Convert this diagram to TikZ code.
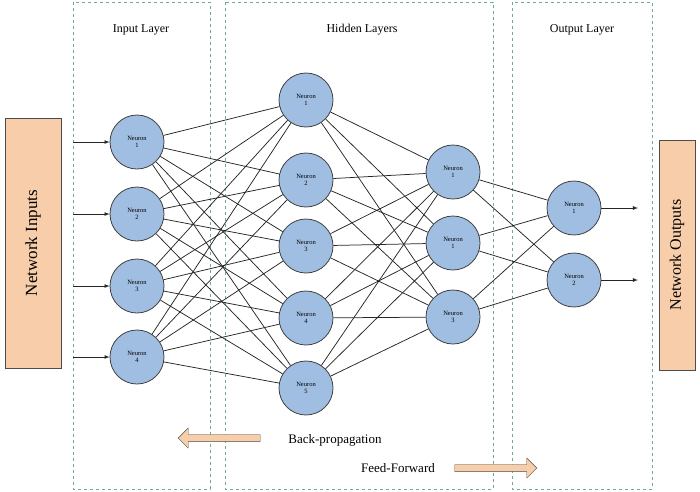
\documentclass[tikz,border=0pt]{standalone}
\usepackage{fontspec}
\setmainfont{Liberation Serif}
\usetikzlibrary{shapes.arrows}
\begin{document}
\begin{tikzpicture}[x=1pt,y=-1pt,
 neuron/.style={circle,draw=black!75,line width=0.8pt,fill=neu,minimum size=54pt,inner sep=0pt,align=center,font=\fontsize{6.5}{7.5}\selectfont},
 layer/.style={draw=dgreen,dashed,line width=0.9pt},
 side/.style={draw=black!70,fill=peach,minimum width=56pt,minimum height=250pt},
 conn/.style={draw=black!85,line width=0.75pt},
 arr/.style={conn,-latex},
 fat/.style={single arrow,draw=black!70,fill=peach,minimum height=82pt,minimum width=20pt,single arrow head extend=4pt,inner sep=2pt}]
\definecolor{neu}{RGB}{160,190,225}
\definecolor{peach}{RGB}{248,206,170}
\definecolor{dgreen}{RGB}{110,170,140}
\useasboundingbox (0,0) rectangle (700,491);
\draw[layer] (73,2) rectangle (210,489);
\draw[layer] (225,2) rectangle (493,489);
\draw[layer] (512,2) rectangle (652,489);
\node[font=\fontsize{12}{14}\selectfont] (l1) at (141,30) {Input Layer};
\node[font=\fontsize{12}{14}\selectfont] (l2) at (362,30) {Hidden Layers};
\node[font=\fontsize{12}{14}\selectfont] (l3) at (582,30) {Output Layer};
\node[side] (ni) at (33,243) {};
\node[rotate=90,font=\fontsize{17}{19}\selectfont] (nit) at (33,243) {Network Inputs};
\node[side,minimum width=36pt,minimum height=230pt] (no) at (677,255) {};
\node[rotate=90,font=\fontsize{16}{18}\selectfont] (not) at (677,255) {Network Outputs};
\foreach \i/\y in {1/142,2/214,3/286,4/357} {
 \node[neuron] (a\i) at (137,\y) {Neuron\\\i};
 \coordinate (s\i) at (73,\y);
 \draw[arr] (s\i) -- (a\i);
}
\foreach \i/\y in {1/100,2/180,3/246,4/318,5/388}
 \node[neuron] (b\i) at (306,\y) {Neuron\\\i};
\node[neuron] (c1) at (453,172) {Neuron\\1};
\node[neuron] (c2) at (453,243) {Neuron\\1};
\node[neuron] (c3) at (453,317) {Neuron\\3};
\foreach \i/\y in {1/208,2/280} {
 \node[neuron] (d\i) at (574,\y) {Neuron\\\i};
 \coordinate (e\i) at (638,\y);
 \draw[arr] (d\i) -- (e\i);
}
\foreach \i in {1,...,4} \foreach \j in {1,...,5} \draw[conn] (a\i) -- (b\j);
\foreach \i in {1,...,5} \foreach \j in {1,...,3} \draw[conn] (b\i) -- (c\j);
\foreach \i in {1,...,3} \foreach \j in {1,2} \draw[conn] (c\i) -- (d\j);
\node[fat,shape border rotate=180] (bp) at (221,438) {};
\node[font=\fontsize{13}{15}\selectfont] (bpt) at (335,440) {Back-propagation};
\node[font=\fontsize{13}{15}\selectfont] (fft) at (398,468) {Feed-Forward};
\node[fat] (ff) at (494,468) {};
\end{tikzpicture}
\end{document}
